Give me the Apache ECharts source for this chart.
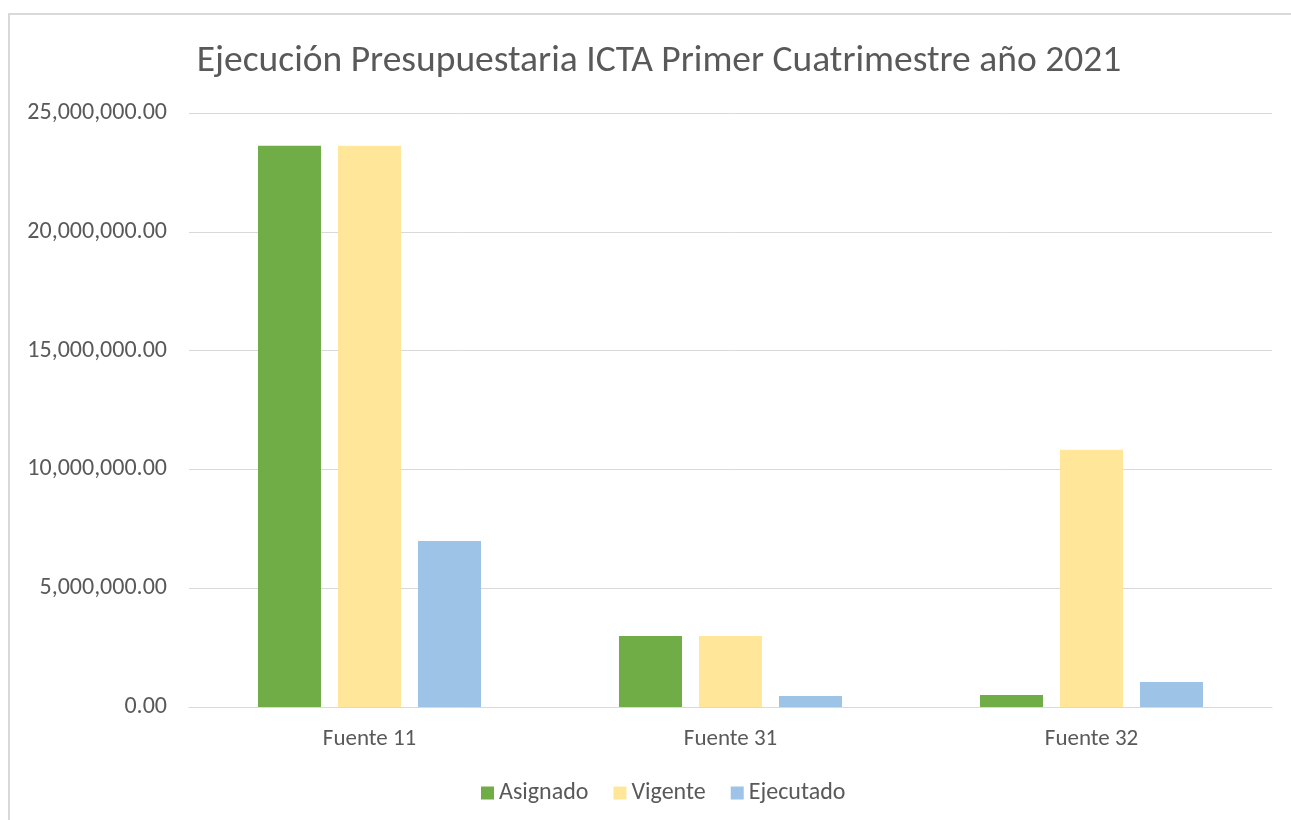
<!DOCTYPE html>
<html lang="es">
<head>
    <meta charset="UTF-8">
    <title>Ejecución Presupuestaria ICTA</title>
    <style>
        * { margin: 0; padding: 0; box-sizing: border-box; }
        body { background: #ffffff; }
        #chart { width: 1291px; height: 820px; }
    </style>
    <script src="https://cdn.jsdelivr.net/npm/echarts@6.0.0/dist/echarts.min.js"></script>
</head>
<body>
    <div id="chart"></div>
    <script>
        // datos
        const categories = ['Fuente 11', 'Fuente 31', 'Fuente 32'];
        const seriesNames = ['Asignado', 'Vigente', 'Ejecutado'];
        const asignado = [23620000, 2990000, 500000];
        const vigente = [23620000, 2990000, 10830000];
        const ejecutado = [6990000, 460000, 1050000];
        const colors = ['#70AD47', '#FFE699', '#9DC3E6'];

        const chart = echarts.init(document.getElementById('chart'));
        const font = 'Carlito, "Open Sans", "Noto Sans", sans-serif';
        const values = [asignado, vigente, ejecutado];

        const option = {
            animation: false,
            textStyle: { fontFamily: font },
            title: {
                text: 'Ejecución Presupuestaria ICTA Primer Cuatrimestre año 2021',
                left: 654,
                top: 38,
                textAlign: 'center',
                textStyle: { fontFamily: font, fontSize: 37.5, fontWeight: 'normal', color: '#595959' }
            },
            graphic: [{
                type: 'rect',
                shape: { x: 9, y: 14, width: 1300, height: 830 },
                style: { fill: 'none', stroke: '#d9d9d9', lineWidth: 2 },
                silent: true
            }],
            legend: {
                data: seriesNames,
                left: 476,
                top: 776,
                itemWidth: 13,
                itemHeight: 13,
                itemGap: 25,
                icon: 'rect',
                textStyle: { fontFamily: font, fontSize: 24, color: '#595959' }
            },
            grid: { left: 189, right: 19, top: 113, bottom: 113 },
            xAxis: {
                type: 'category',
                data: categories,
                axisTick: { show: false },
                axisLine: { lineStyle: { color: '#d9d9d9', width: 1 } },
                axisLabel: { fontFamily: font, fontSize: 23, color: '#595959', margin: 21 }
            },
            yAxis: {
                type: 'value',
                min: 0,
                max: 25000000,
                interval: 5000000,
                axisLine: { show: false },
                axisTick: { show: false },
                splitLine: { lineStyle: { color: '#d9d9d9', width: 1 } },
                axisLabel: {
                    fontFamily: font, fontSize: 24, color: '#595959', margin: 22,
                    formatter: v => v.toLocaleString('en-US', { minimumFractionDigits: 2, maximumFractionDigits: 2 })
                }
            },
            series: seriesNames.map((name, i) => ({
                name: name,
                type: 'bar',
                data: values[i],
                barWidth: 63,
                barGap: '27%',
                itemStyle: { color: colors[i] }
            }))
        };

        chart.setOption(option);
    </script>
</body>
</html>
